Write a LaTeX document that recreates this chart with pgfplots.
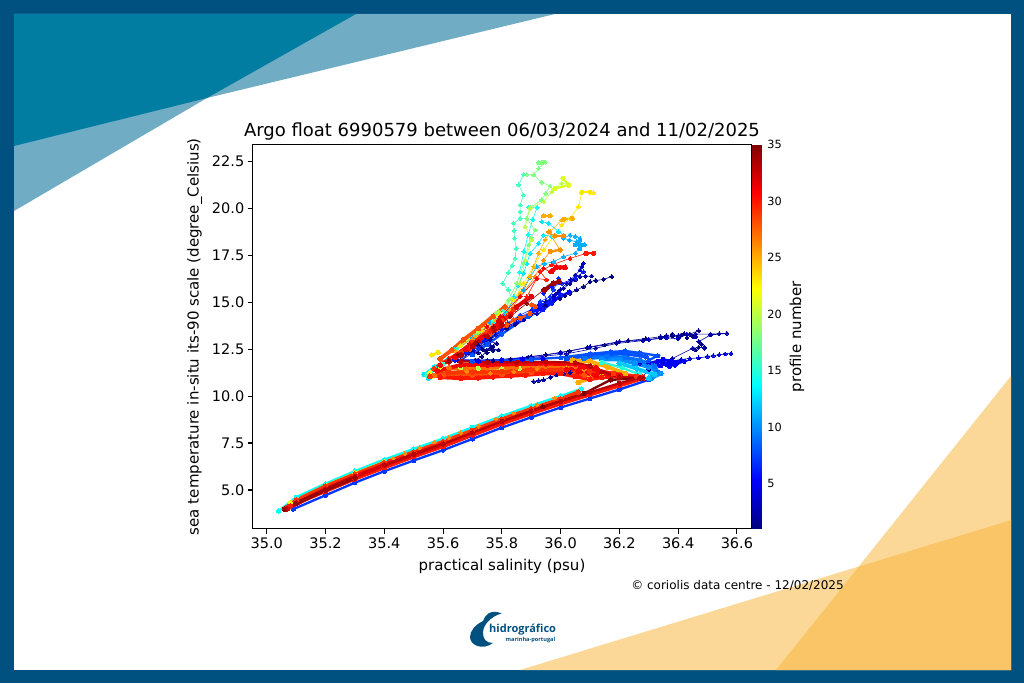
\documentclass[border=0pt]{standalone}
\usepackage{pgfplots}
\pgfplotsset{compat=1.18}
\usepackage{fontspec}
\setmainfont{DejaVu Sans}
\newfontfamily\logofont{Open Sans}
\definecolor{p1}{rgb}{0,0,.5}\definecolor{p2}{rgb}{0,0,.618}\definecolor{p3}{rgb}{0,0,.735}\definecolor{p4}{rgb}{0,0,.85}\definecolor{p5}{rgb}{0,0,.97}
\definecolor{p6}{rgb}{0,.09,1}\definecolor{p7}{rgb}{0,.206,1}\definecolor{p8}{rgb}{0,.32,1}\definecolor{p9}{rgb}{0,.44,1}\definecolor{p10}{rgb}{0,.56,1}
\definecolor{p11}{rgb}{0,.68,1}\definecolor{p12}{rgb}{0,.79,1}\definecolor{p13}{rgb}{0,.91,1}\definecolor{p14}{rgb}{.03,1,.97}\definecolor{p15}{rgb}{.147,1,.85}
\definecolor{p16}{rgb}{.265,1,.735}\definecolor{p17}{rgb}{.382,1,.618}\definecolor{p18}{rgb}{.5,1,.5}\definecolor{p19}{rgb}{.618,1,.382}\definecolor{p20}{rgb}{.735,1,.265}
\definecolor{p21}{rgb}{.85,1,.147}\definecolor{p22}{rgb}{.97,1,.03}\definecolor{p23}{rgb}{1,.91,0}\definecolor{p24}{rgb}{1,.79,0}\definecolor{p25}{rgb}{1,.68,0}
\definecolor{p26}{rgb}{1,.56,0}\definecolor{p27}{rgb}{1,.44,0}\definecolor{p28}{rgb}{1,.32,0}\definecolor{p29}{rgb}{1,.206,0}\definecolor{p30}{rgb}{1,.09,0}
\definecolor{p31}{rgb}{.97,0,0}\definecolor{p32}{rgb}{.85,0,0}\definecolor{p33}{rgb}{.735,0,0}\definecolor{p34}{rgb}{.618,0,0}\definecolor{p35}{rgb}{.5,0,0}
\definecolor{frame}{RGB}{0,80,128}\definecolor{tealD}{RGB}{0,125,160}\definecolor{tealL}{RGB}{112,172,196}
\definecolor{orL}{RGB}{252,216,152}\definecolor{orD}{RGB}{249,197,102}
\pgfplotsset{pr/.style={color=#1,mark=*,mark size=1.95pt,line width=.6pt,mark options={solid,line width=0pt}},
 tk/.style={color=#1,mark=*,mark size=2.4pt,line width=3.8pt,mark options={solid,line width=0pt}},
 md/.style={color=#1,mark=*,mark size=2.1pt,line width=2.3pt,mark options={solid,line width=0pt}},
 dt/.style={color=#1,only marks,mark=*,mark size=1.9pt,mark options={line width=0pt}}}
\begin{document}
\begin{tikzpicture}[x=1pt,y=1pt]
\path[use as bounding box] (0,0) rectangle (1024,683);
\fill[frame] (0,0) rectangle (1024,683);
\fill[white] (14,13) rectangle (1011,669);
% decorations: coordinates (px, 683-py)
\fill[tealL] (14,669) -- (555,669) -- (207,585) -- (14,472) -- cycle;
\fill[tealD] (14,669) -- (356,669) -- (207,585) -- (14,537) -- cycle;
\fill[orL] (776,13) -- (1011,307) -- (1011,163) -- (859,116.5) -- cycle;
\fill[orL] (520,13) -- (1011,13) -- (1011,163) -- cycle;
\fill[orD] (776,13) -- (1011,13) -- (1011,163) -- (859,116.5) -- cycle;
\begin{axis}[at={(252.7pt,154.3pt)},anchor=south west,width=498.6pt,height=384pt,scale only axis,
 xmin=34.952,xmax=36.649,ymin=2.94,ymax=23.38,
 xtick={35,35.2,...,36.61},ytick={5,7.5,...,22.6},
 tick align=outside,xtick pos=bottom,ytick pos=left,major tick length=4.9pt,
 every tick/.style={black,line width=1.1pt},axis line style={line width=1.1pt,black},
 tick label style={font=\fontsize{14.5}{15}\selectfont},
 xticklabel style={yshift=-.5pt},
 /pgf/number format/assume math mode=true,
 /pgf/number format/fixed,/pgf/number format/fixed zerofill,/pgf/number format/precision=1,
 title={Argo float 6990579 between 06/03/2024 and 11/02/2025},
 title style={font=\fontsize{18}{19}\selectfont,at={(0.5,1)},yshift=-5pt},
 xlabel={practical salinity (psu)},ylabel={sea temperature in-situ its-90 scale (degree\_Celsius)},
 label style={font=\fontsize{15}{16}\selectfont},
 xlabel style={yshift=-4pt},ylabel style={yshift=3pt},
 colormap/jet,point meta min=1,point meta max=35,colorbar,
 colorbar shift/.style={xshift=-11.2pt},
 colorbar style={width=9.7pt,ytick={5,10,...,35},ylabel={profile number},
   ytick pos=right,major tick length=0pt,axis line style={draw=none},
   /pgf/number format/assume math mode=true,
   yticklabel style={font=\fontsize{11.3}{14}\selectfont,xshift=2pt},
   /pgf/number format/precision=0,/pgf/number format/fixed zerofill=false,
   ylabel style={font=\fontsize{15}{16}\selectfont,yshift=-1pt}},
]
% shallow/blue profiles
\addplot[pr=p1] coordinates {(36.174,16.36)(36.146,16.21)(36.12,16.15)(36.1,16.09)(36.078,15.82)(36.055,15.65)(36.032,15.47)(36.015,15.33)(35.998,15.2)(35.975,15.02)(35.953,14.85)(35.935,14.7)(35.919,14.58)(35.895,14.3)(35.874,14.05)(35.845,13.8)(35.817,13.6)(35.76,13.1)(35.72,12.7)(35.69,12.3)(35.66,11.9)(35.72,11.9)(35.77,11.9)(35.83,11.97)(35.89,12.08)(35.95,12.2)(36.0,12.33)(36.03,12.4)(36.09,12.58)(36.15,12.72)(36.19,12.85)(36.23,12.95)(36.29,13.05)(36.34,13.16)(36.38,13.2)(36.41,13.25)(36.44,13.3)(36.47,13.48)};
\addplot[pr=p1] coordinates {(35.709,11.92)(35.732,12.1)(35.749,12.45)(35.789,12.45)(35.76,12.54)(35.783,12.8)(35.743,12.98)(35.738,12.45)};
\addplot[dt=p1] coordinates {(35.75,12.3)(35.77,12.42)(35.76,12.7)(35.73,12.55)(35.72,12.3)(35.77,12.62)(36.4,13.12)(36.42,13.32)(36.38,13.3)(36.45,13.18)(36.36,13.22)(36.43,13.1)(36.47,12.6)(36.49,12.55)(36.46,12.45)(36.48,12.75)};
\addplot[pr=p2] coordinates {(36.106,16.39)(36.085,16.38)(36.066,16.36)(36.05,16.18)(36.032,16.0)(36.01,15.73)(35.99,15.5)(35.976,15.29)(35.95,15.02)(35.93,14.76)(35.9,14.4)(35.874,14.05)(35.82,13.75)(35.76,13.0)(35.7,12.3)(35.66,11.88)(35.75,11.9)(35.9,12.05)(36.02,12.25)(36.12,12.55)(36.19,12.8)(36.28,12.95)(36.34,13.1)(36.4,13.2)(36.43,13.25)(36.46,13.3)(36.51,13.3)(36.54,13.32)(36.566,13.34)(36.51,13.25)(36.47,12.9)(36.49,12.6)(36.45,12.55)(36.38,12.0)(36.3,11.4)(36.28,11.05)};
\addplot[pr=p2] coordinates {(35.908,10.77)(35.925,10.82)(35.942,10.86)(35.965,11.0)(35.987,11.12)(36.01,11.2)(36.033,11.25)};
\addplot[pr=p3] coordinates {(36.078,17.07)(36.072,16.88)(36.066,16.71)(36.05,16.44)(36.035,16.2)(36.021,16)(35.998,15.65)(35.98,15.38)(35.964,15.11)(35.94,14.75)(35.919,14.4)(35.85,13.9)(35.78,13.3)(35.7,12.4)(35.65,11.9)(35.8,11.95)(35.9,12.1)(36.0,12.3)(36.1,12.62)(36.2,12.9)(36.3,13.0)(36.36,13.1)(36.4,13.05)(36.43,13.3)(36.46,13.15)};
\addplot[pr=p4] coordinates {(36.27,11.75)(36.32,11.7)(36.35,11.8)(36.37,11.85)(36.41,11.95)(36.44,12.0)(36.47,12.03)(36.5,12.1)(36.52,12.15)(36.54,12.2)(36.56,12.24)(36.58,12.27)};
\addplot[md=p5] coordinates {(36.3,11.6)(36.33,11.85)(36.36,11.7)(36.39,11.65)(36.4,11.8)(36.35,11.95)(36.3,11.75)(36.34,11.62)(36.38,11.85)(36.42,11.85)(36.37,11.58)};
\addplot[md=p5] coordinates {(35.64,11.92)(35.72,11.86)(35.8,11.9)(35.87,11.97)(35.94,12.0)};
\addplot[md=p5] coordinates {(35.86,14.15)(35.93,14.65)(35.98,15.15)(36.03,15.55)};
% lower branch, edges
\addplot[md=p7] coordinates {(35.09,3.98)(35.2,4.72)(35.3,5.39)(35.4,6.0)(35.5,6.57)(35.6,7.12)(35.7,7.72)(35.8,8.32)(35.9,8.87)(36.0,9.39)(36.1,9.87)(36.2,10.35)(36.3,10.87)};
\addplot[pr=p6] coordinates {(36.078,16.62)(36.05,16.27)(36.004,16)(35.97,15.82)(35.942,15.47)(35.959,14.94)(35.919,14.58)(35.896,14.4)(35.862,14.05)(35.8,13.55)(35.74,12.95)(35.68,12.3)(35.64,11.9)};
\addplot[md=p6] coordinates {(35.9,14.5)(35.93,14.85)(35.96,15.0)(35.94,14.6)(35.97,14.95)(36.0,15.4)};
\addplot[pr=p7] coordinates {(35.993,16.27)(35.976,15.65)(35.964,15.29)(35.93,15.03)(35.908,14.67)(35.862,14.31)(35.82,13.9)(35.79,13.35)(35.72,12.55)};
\addplot[md=p8] coordinates {(35.7,11.85)(35.9,11.95)(36.0,12.05)(36.1,12.25)(36.17,12.35)(36.22,12.4)(36.27,12.3)(36.33,12.15)(36.3,11.9)};
\addplot[md=p8] coordinates {(35.89,14.25)(35.8,13.3)(35.75,12.75)(35.7,12.2)};
\addplot[tk=p8] coordinates {(36.02,12.0)(36.1,12.18)(36.17,12.28)(36.23,12.25)(36.29,12.1)};
\addplot[tk=p9] coordinates {(36.08,12.0)(36.16,12.1)(36.22,12.05)(36.27,11.9)(36.32,11.6)(36.33,11.25)};
\addplot[tk=p10] coordinates {(36.14,11.95)(36.2,11.95)(36.25,11.75)(36.3,11.55)(36.34,11.2)(36.31,10.97)};
\addplot[pr=p11] coordinates {(36.066,18.4)(36.05,18.5)(36.032,18.57)(36.01,18.4)(36.03,18.3)(36.055,18.22)(36.066,17.95)(36.05,17.6)(36.01,17.42)(35.976,17.15)(35.945,17.05)(35.919,16.89)(35.895,16.3)(35.874,15.65)(35.84,15.11)(35.811,14.4)(35.76,13.9)(35.7,13.1)(35.64,12.4)};
\addplot[md=p11] coordinates {(36.05,18.05)(36.08,18.05)(36.065,18.05)(36.065,18.3)(36.065,17.85)};
\addplot[tk=p12] coordinates {(36.2,11.75)(36.26,11.45)(36.32,11.15)(36.3,10.95)};
\addplot[pr=p13] coordinates {(35.936,19.28)(35.959,19.2)(35.993,18.75)(36.01,18.57)(35.97,18.5)(35.942,18.57)(35.925,18.13)(35.896,17.6)(35.885,17.05)(35.874,16.53)(35.855,15.9)(35.84,15.29)(35.817,14.4)(35.77,13.9)(35.71,13.2)(35.64,12.5)};
\addplot[md=p13] coordinates {(35.62,12.0)(35.57,11.55)(35.535,11.15)(35.55,10.95)};
\addplot[md=p14] coordinates {(35.04,3.88)(35.1,4.62)(35.2,5.34)(35.3,6.01)(35.4,6.62)(35.5,7.19)(35.6,7.74)(35.7,8.34)(35.8,8.94)(35.9,9.49)(36.0,10.01)(36.07,10.38)};
\addplot[pr=p14] coordinates {(35.89,20.05)(35.92,20.05)(35.905,19.4)(35.89,18.6)(35.875,17.7)(35.86,16.6)};
\addplot[md=p15] coordinates {(36.14,11.8)(36.21,11.5)(36.27,11.15)};
\addplot[pr=p16] coordinates {(35.874,21.8)(35.857,21.24)(35.874,20.7)(35.862,20.17)(35.862,19.8)(35.862,19.46)(35.84,19.2)(35.842,18.8)(35.843,18.4)(35.849,17.86)(35.845,17.33)(35.835,16.95)(35.822,16.57)(35.803,16)(35.822,15.65)(35.834,15.2)(35.805,14.58)(35.77,14.0)(35.71,13.25)(35.65,12.55)};
\addplot[md=p16] coordinates {(35.6,11.7)(35.56,11.35)(35.545,11.12)};
\addplot[pr=p18] coordinates {(35.938,22.43)(35.948,22.45)(35.925,22.12)(35.908,21.77)(35.885,21.8)(35.908,21.77)(35.936,21.38)(35.964,21.18)(35.95,20.8)(35.936,20.44)(35.896,20.05)(35.885,19.46)(35.913,18.84)(35.9,18.45)(35.891,18.04)(35.874,17.07)(35.851,16)(35.822,15.11)(35.78,14.4)(35.72,13.4)(35.66,12.7)};
\addplot[md=p18] coordinates {(35.94,22.45)(35.925,22.42)};
\addplot[md=p20] coordinates {(35.86,11.47)(35.8,11.45)(35.72,11.47)(35.66,11.52)};
\addplot[pr=p20] coordinates {(36.01,21.6)(36.027,21.24)(36.004,21.33)(35.981,21.06)(35.97,20.88)(35.942,20.35)(35.896,20)(35.879,19.02)(35.902,18.31)(35.879,17.24)(35.862,16)(35.834,15.2)(35.79,14.5)(35.72,13.45)(35.655,12.65)};
\addplot[md=p21] coordinates {(36.008,21.6)(36.027,21.22)(35.98,21.05)};
\addplot[md=p22] coordinates {(35.59,11.55)(35.555,11.25)(35.56,11.02)};
\addplot[md=p22] coordinates {(35.08,4.32)(35.2,5.24)(35.3,5.9)(35.4,6.5)};
\addplot[pr=p23] coordinates {(36.112,20.83)(36.072,20.83)(36.061,20.08)(36.032,19.46)(36.004,19.11)(35.976,18.49)(35.942,17.78)(35.908,16.89)(35.874,16)(35.84,15.11)(35.79,14.3)(35.73,13.5)(35.66,12.7)};
\addplot[md=p23] coordinates {(36.072,20.85)(36.1,20.85)};
\addplot[md=p23] coordinates {(35.562,12.19)(35.584,12.33)};
\addplot[pr=p25] coordinates {(36.038,19.46)(36.004,19.37)(35.964,18.75)(35.947,18.31)(35.925,17.6)(35.908,16.89)(35.896,16.36)(35.862,15.47)(35.828,14.58)(35.78,14.0)(35.71,13.2)(35.64,12.4)};
\addplot[md=p25] coordinates {(35.942,19.59)(35.964,19.59)};
\addplot[md=p25] coordinates {(36.04,19.46)(36.01,19.4)};
\addplot[tk=p25] coordinates {(36.04,11.9)(36.1,11.85)(36.16,11.55)(36.22,11.2)};
\addplot[tk=p25] coordinates {(36.06,10.72)(36.1,10.95)(36.14,11.05)};
\addplot[pr=p26] coordinates {(36.01,18.52)(35.981,18.52)(35.959,18.75)(35.998,17.78)(35.964,17.69)(35.942,17.24)(35.913,16.36)(35.862,15.29)(35.822,14.4)(35.77,13.8)(35.7,13.0)};
\addplot[md=p26] coordinates {(36.01,18.52)(35.98,18.52)};
\addplot[md=p26] coordinates {(35.998,17.78)(35.965,17.7)};
\addplot[tk=p27] coordinates {(35.57,11.1)(35.62,11.5)(35.68,11.42)(35.75,11.5)(35.85,11.55)(35.95,11.6)(36.05,11.6)(36.12,11.55)};
\addplot[md=p28] coordinates {(35.902,14.85)(35.913,14.76)(35.896,14.4)(35.862,14.14)(35.84,14.05)(35.817,13.78)(35.76,13.3)(35.69,12.5)};
% dark/red profiles, mid band
\addplot[tk=p28] coordinates {(35.59,11.98)(35.63,12.45)(35.67,13.0)(35.72,13.6)(35.77,14.25)(35.81,14.75)};
\addplot[tk=p28] coordinates {(35.6,11.1)(35.7,11.12)(35.8,11.15)(35.9,11.25)(36.0,11.3)(36.08,11.12)};
\addplot[tk=p29] coordinates {(35.555,11.05)(35.62,11.25)(35.7,11.28)(35.8,11.3)(35.9,11.4)(36.0,11.4)(36.1,11.3)(36.18,11.2)(36.26,11.05)};
\addplot[tk=p29] coordinates {(35.07,4.1)(35.1,4.45)(35.2,5.2)(35.3,5.84)(35.4,6.45)(35.5,7.02)(35.6,7.57)(35.7,8.17)(35.8,8.77)(35.9,9.32)(36.0,9.84)(36.06,10.2)};
\addplot[tk=p30] coordinates {(35.59,11.0)(35.66,10.95)(35.72,10.97)(35.77,11.03)(35.83,11.08)(35.88,11.12)(35.94,11.2)(36.0,11.2)(36.05,11.05)(36.1,10.9)(36.14,11.0)(36.2,11.05)(36.28,11.0)};
\addplot[tk=p30] coordinates {(35.08,4.15)(35.2,4.95)(35.3,5.6)(35.4,6.2)(35.5,6.78)(35.6,7.33)(35.7,7.93)(35.8,8.53)(35.9,9.08)(36.0,9.6)(36.1,10.08)(36.2,10.56)(36.28,10.95)};
\addplot[dt=p26] coordinates {(35.43,6.7)(35.47,6.93)(35.52,7.25)(35.57,7.55)(35.62,7.78)(35.66,8.05)(35.72,8.4)(35.78,8.78)(35.84,9.1)(35.92,9.55)(35.98,9.9)(35.68,11.3)(35.76,11.22)(35.84,11.3)(35.92,11.45)(36.02,11.5)(36.08,11.4)};
\addplot[tk=p29] coordinates {(35.57,11.45)(35.62,11.95)(35.66,12.35)(35.7,12.85)(35.75,13.4)(35.8,14.05)(35.84,14.6)};
\addplot[tk=p31] coordinates {(35.59,11.65)(35.64,12.05)(35.68,12.5)(35.73,13.1)(35.78,13.7)(35.83,14.35)};
\addplot[tk=p31] coordinates {(35.58,11.35)(35.66,11.65)(35.75,11.65)(35.85,11.7)(35.95,11.72)(36.05,11.7)(36.12,11.5)};
\addplot[tk=p31] coordinates {(36.02,11.4)(36.08,11.55)(36.13,11.35)(36.2,11.1)(36.12,11.1)(36.06,11.3)};
\addplot[pr=p30] coordinates {(36.112,17.6)(36.089,17.6)(36.032,17.33)(35.97,16.98)(35.93,16.62)(35.953,16.18)(35.919,16.27)(35.885,15.29)(35.817,14.22)(35.76,13.45)(35.69,12.55)(35.62,11.8)};
\addplot[md=p30] coordinates {(36.112,17.6)(36.085,17.6)};
\addplot[pr=p31] coordinates {(36.015,16.85)(35.998,16.85)(35.987,16.89)(35.964,16.62)(35.942,16.8)(35.919,16.27)(35.862,15.29)(35.794,14.22)(35.749,13.69)(35.69,12.8)(35.62,12.0)};
\addplot[tk=p31] coordinates {(36.015,16.85)(35.985,16.85)(35.97,16.65)};
\addplot[tk=p32] coordinates {(35.79,14.0)(35.85,14.75)(35.9,15.3)};
\addplot[tk=p33] coordinates {(35.62,11.85)(35.66,12.2)(35.7,12.65)(35.75,13.2)(35.8,13.8)};
\addplot[md=p33] coordinates {(35.66,11.85)(35.75,11.8)(35.85,11.8)(35.95,11.82)(36.05,11.78)(36.1,11.6)(36.14,11.3)(36.2,11.0)(36.28,10.95)};
\addplot[md=p35] coordinates {(36.27,10.95)(36.17,10.86)(36.08,10.14)(35.94,9.43)(35.8,8.65)};
\addplot[tk=p32] coordinates {(35.07,4.0)(35.2,5.05)(35.3,5.72)(35.4,6.33)(35.5,6.9)(35.6,7.45)};
\addplot[tk=p34] coordinates {(35.06,3.98)(35.1,4.3)(35.2,5.0)(35.3,5.65)};
\addplot[md=p33] coordinates {(35.4,6.33)(35.5,6.9)(35.6,7.45)(35.7,8.05)(35.8,8.65)(35.9,9.2)(36.0,9.72)(36.1,10.2)(36.2,10.68)(36.27,10.98)};
\addplot[pr=p34] coordinates {(35.998,16.09)(35.976,16)(35.942,15.65)(35.885,14.94)(35.828,14.22)(35.771,13.69)(35.71,12.85)(35.65,12.2)(35.62,11.87)};
\addplot[tk=p34] coordinates {(35.995,16.09)(35.976,16.0)(35.945,15.65)};
\end{axis}
\node[font=\fontsize{12}{13}\selectfont] at (737.5,98) {© coriolis data centre - 12/02/2025};
% logo
\fill[frame] (501.7,69.7) .. controls (490,74) and (485,68) .. (483,62) .. controls (475,58) and (470,52) .. (470,46) .. controls (470,38) and (482,32) .. (493,40) .. controls (486,40) and (483,44) .. (483,50) .. controls (483,58) and (490,66) .. (501.7,69.7) -- cycle;
\node[anchor=west,text=frame,inner sep=0pt,font=\logofont\bfseries\fontsize{11}{12}\selectfont] at (489,53) {hidrográfico};
\node[anchor=east,text=frame,inner sep=0pt,font=\logofont\bfseries\fontsize{5.6}{7}\selectfont] at (555.5,43) {marinha-portugal};
\end{tikzpicture}
\end{document}
